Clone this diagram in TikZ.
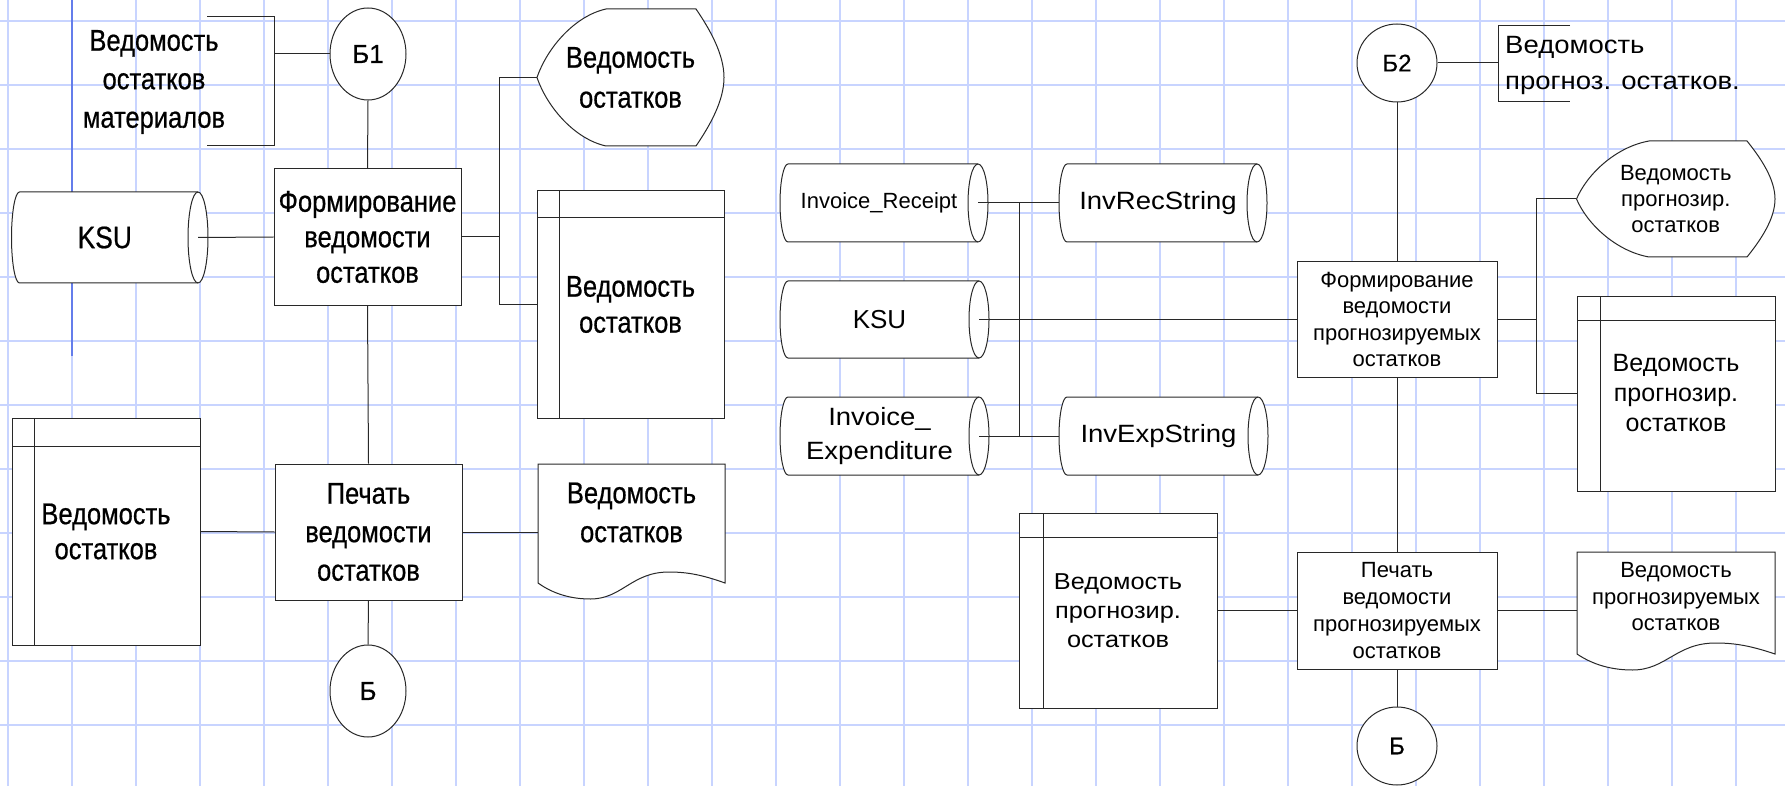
\documentclass[tikz,border=0pt]{standalone}
\usepackage{fontspec}
\setmainfont{Liberation Sans}
\newfontfamily\fL[FakeStretch=0.85,FakeBold=0.6]{Liberation Sans}
\newfontfamily\fB[FakeBold=0.5]{Liberation Sans}
\newfontfamily\fR{Liberation Sans}
\newfontfamily\fW[FakeStretch=1.1]{Liberation Sans}
\usetikzlibrary{shapes.geometric,calc}
\definecolor{gridc}{RGB}{200,212,255}
\definecolor{gridd}{RGB}{100,125,235}
\definecolor{linec}{RGB}{40,40,40}
\tikzset{
 outl/.style={draw=linec, line width=1pt},
 conn/.style={draw=linec, line width=1pt},
 gridl/.style={draw=gridc, line width=1.6pt},
 txt/.style={align=center, inner sep=0pt, text=black},
 proc/.style={txt, outl, fill=white, rectangle},
 conb/.style={txt, outl, fill=white, ellipse},
}
% cylinder: style, name, x0 (leftmost), y0 (top), length to right ellipse centre, height, text
\newcommand\cylnode[7]{%
 \draw[outl, fill=white] ({#3+8},#4) -- ({#3+#5},#4)
   arc[start angle=90, end angle=-90, x radius=10pt, y radius={#6*0.5pt}]
   -- ({#3+8},{#4+#6})
   arc[start angle=270, end angle=90, x radius=8pt, y radius={#6*0.5pt}] -- cycle;
 \draw[outl] ({#3+#5},#4) arc[start angle=90, end angle=270, x radius=10pt, y radius={#6*0.5pt}];
 \node[txt,#1, minimum width=#5pt, minimum height=#6pt] (#2) at ({#3+#5/2},{#4+#6/2}) {#7};
}
% internal storage: style, name, x0, y0, w, h, header, vline, text
\newcommand\stornode[9]{%
 \node[proc,#1, minimum width=#5pt, minimum height=#6pt] (#2) at ({#3+#5/2},{#4+#6/2}) {#9};
 \draw[outl] (#3,{#4+#7}) -- ({#3+#5},{#4+#7}) ({#3+#8},#4) -- ({#3+#8},{#4+#6});
}
% display: style, name, x0, y0, w, h, left inset, text
\newcommand\dispnode[8]{%
 \draw[outl, fill=white] ({#3+#7},#4) -- ({#3+#5-28},#4)
  .. controls ({#3+#5-14},{#4+0.15*#6}) and ({#3+#5},{#4+0.33*#6}) .. ({#3+#5},{#4+0.5*#6})
  .. controls ({#3+#5},{#4+0.67*#6}) and ({#3+#5-14},{#4+0.85*#6}) .. ({#3+#5-28},{#4+#6})
  -- ({#3+#7},{#4+#6})
  .. controls ({#3+0.55*#7},{#4+0.95*#6}) and ({#3+0.15*#7},{#4+0.72*#6}) .. (#3,{#4+0.5*#6})
  .. controls ({#3+0.15*#7},{#4+0.28*#6}) and ({#3+0.55*#7},{#4+0.05*#6}) .. ({#3+#7},#4) -- cycle;
 \node[txt,#1, minimum width=#5pt, minimum height=#6pt] (#2) at ({#3+#5/2},{#4+#6/2}) {#8};
}
% document: style, name, x0, y0, w, text box h, left end offset, text
\newcommand\docnode[8]{%
 \draw[outl, fill=white] (#3,#4) -- ({#3+#5},#4) -- ({#3+#5},{#4+#7})
  .. controls ({#3+0.88*#5},{#4+#7-8}) and ({#3+0.8*#5},{#4+#7-11}) .. ({#3+0.7*#5},{#4+#7-11})
  .. controls ({#3+0.5*#5},{#4+#7-11}) and ({#3+0.45*#5},{#4+#7+16}) .. ({#3+0.28*#5},{#4+#7+16})
  .. controls ({#3+0.15*#5},{#4+#7+16}) and ({#3+0.06*#5},{#4+#7+8}) .. (#3,{#4+#7}) -- cycle;
 \node[txt,#1, minimum width=#5pt, minimum height=#6pt] (#2) at ({#3+#5/2},{#4+#6/2}) {#8};
}
\begin{document}
\begin{tikzpicture}[x=1pt,y=-1pt]
\useasboundingbox (0,0) rectangle (1785,786);
\fill[white] (0,0) rectangle (1785,786);
\foreach \i in {0,...,27} \draw[gridl] ({8+64*\i},0) -- ({8+64*\i},786);
\foreach \j in {0,...,11} \draw[gridl] (0,{21+64*\j}) -- (1785,{21+64*\j});
\draw[draw=gridd, line width=1.6pt] (72,0) -- (72,356);

% ---------- left panel ----------
\node[txt, font=\fL\fontsize{30}{38.5}\selectfont] (ann1) at (154,82) {Ведомость\\остатков\\материалов};
\draw[outl] (207,17) -- (274,17) -- (274,146) -- (207,146);
\coordinate (ann1c) at (274,54);
\node[conb, font=\fB\fontsize{26}{30}\selectfont, minimum width=76pt, minimum height=92pt] (b1) at (368,54) {Б1};
\node[proc, font=\fL\fontsize{30}{35.5}\selectfont, minimum width=187pt, minimum height=136pt] (form1) at (367.5,237) {Формирование\\ведомости\\остатков};
\cylnode{font=\fL\fontsize{31}{36}\selectfont}{ksu1}{11.5}{192}{186.5}{91}{KSU}
\dispnode{font=\fL\fontsize{30}{40}\selectfont}{disp1}{537}{9}{187}{137}{69}{Ведомость\\остатков}
\stornode{font=\fL\fontsize{30}{36}\selectfont}{stor1}{537}{191}{187}{227}{27}{22}{Ведомость\\остатков}
\node[proc, font=\fL\fontsize{30}{38.5}\selectfont, minimum width=187pt, minimum height=136pt] (print1) at (368.5,532) {Печать\\ведомости\\остатков};
\stornode{font=\fL\fontsize{30}{35}\selectfont}{stor0}{12}{418}{188}{227}{28}{22}{Ведомость\\остатков}
\docnode{font=\fL\fontsize{30}{39}\selectfont}{doc1}{538}{464}{187}{97}{119}{Ведомость\\остатков}
\node[conb, font=\fB\fontsize{26}{30}\selectfont, minimum width=76pt, minimum height=92pt] (bb1) at (368,691) {Б};

\coordinate (bus1) at (499.5,237);
\draw[conn] (ann1c) -- (b1.west);
\draw[conn] (b1.south) -- (form1.north);
\draw[conn] (ksu1.east) -- (form1.west);
\draw[conn] (form1.east) -- (bus1);
\draw[conn] (disp1.west) -| (bus1) |- (stor1.west);
\draw[conn] (form1.south) -- (print1.north);
\draw[conn] (stor0.east) -- (print1.west);
\draw[conn] (print1.east) -- (print1.east -| doc1.west);
\draw[conn] (print1.south) -- (bb1.north);

% ---------- middle panel ----------
\cylnode{font=\fR\fontsize{22}{26}\selectfont}{invr}{780}{164}{198}{78}{Invoice\_Receipt}
\cylnode{font=\fR\fontsize{26}{30}\selectfont}{ksu2}{780}{281}{199}{77}{KSU}
\cylnode{font=\fW\fontsize{25}{34}\selectfont}{inve}{780}{397}{199}{78}{Invoice\_\\Expenditure}
\cylnode{font=\fW\fontsize{25}{30}\selectfont}{invrs}{1059}{164}{198}{78}{InvRecString}
\cylnode{font=\fW\fontsize{25}{30}\selectfont}{inves}{1059}{397}{199}{78}{InvExpString}
\stornode{font=\fW\fontsize{23}{29}\selectfont}{stor2}{1019}{513}{198}{195}{24}{24}{Ведомость\\прогнозир.\\остатков}

\coordinate (m1) at (1019,203);
\coordinate (m2) at (1019,436);
\draw[conn] (invr.east) -- (invrs.west);
\draw[conn] (inve.east) -- (inves.west);
\draw[conn] (m1) -- (m2);

% ---------- right panel ----------
\node[conb, font=\fB\fontsize{24}{30}\selectfont, minimum width=80pt, minimum height=78pt] (b2) at (1397,63) {Б2};
\draw[outl] (1570,26) -- (1498,26) -- (1498,102) -- (1570,102);
\coordinate (ann2c) at (1498,63);
\node[txt, align=left, anchor=west, font=\fW\fontsize{25}{36}\selectfont] (ann2) at (1505,65) {Ведомость\\прогноз. остатков.};
\node[proc, font=\fR\fontsize{22}{26.3}\selectfont, minimum width=200pt, minimum height=115pt] (form2) at (1397,319.5) {Формирование\\ведомости\\прогнозируемых\\остатков};
\dispnode{font=\fR\fontsize{22}{26}\selectfont}{disp2}{1576.5}{141}{198.5}{116}{72.5}{Ведомость\\прогнозир.\\остатков}
\stornode{font=\fR\fontsize{25}{30}\selectfont}{stor3}{1577}{296}{198}{195}{24}{23}{Ведомость\\прогнозир.\\остатков}
\node[proc, font=\fR\fontsize{22}{26.7}\selectfont, minimum width=200pt, minimum height=117pt] (print2) at (1397,610.5) {Печать\\ведомости\\прогнозируемых\\остатков};
\docnode{font=\fR\fontsize{22}{26.5}\selectfont}{doc2}{1577}{552}{198}{90}{102}{Ведомость\\прогнозируемых\\остатков}
\node[conb, font=\fB\fontsize{24}{30}\selectfont, minimum width=80pt, minimum height=78pt] (bb2) at (1397,746) {Б};

\coordinate (bus3) at (1536,319.5);
\draw[conn] (ksu2.east) -- (form2.west);
\draw[conn] (b2.east) -- (ann2c);
\draw[conn] (b2.south) -- (form2.north);
\draw[conn] (form2.east) -- (bus3);
\draw[conn] (disp2.west) -| (bus3) |- (stor3.west);
\draw[conn] (form2.south) -- (print2.north);
\draw[conn] (stor2.east) -- (print2.west);
\draw[conn] (print2.east) -- (print2.east -| doc2.west);
\draw[conn] (print2.south) -- (bb2.north);
\end{tikzpicture}
\end{document}
